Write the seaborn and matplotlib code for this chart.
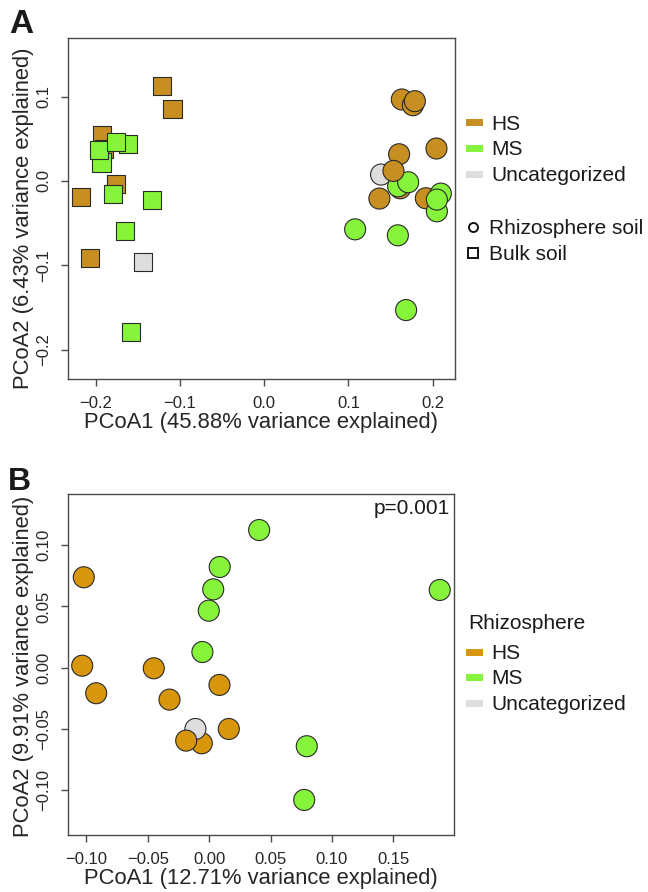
import matplotlib
matplotlib.use("Agg")
import matplotlib.pyplot as plt
from matplotlib.patches import Rectangle
from matplotlib.lines import Line2D
import seaborn as sns
import pandas as pd

# ---------------- data ----------------
# Panel A: rhizosphere soil samples (circles)
a_rhizo_x = [0.1634, 0.1765, 0.1789, 0.2045, 0.1602, 0.1388, 0.1614, 0.1590, 0.1709,
             0.1535, 0.1368, 0.1919, 0.2050, 0.2097, 0.2050, 0.1080, 0.1587, 0.1685]
a_rhizo_y = [0.0967, 0.0899, 0.0947, 0.0385, 0.0317, 0.0076, -0.0087, -0.0063, -0.0015,
             0.0119, -0.0209, -0.0205, -0.0360, -0.0150, -0.0221, -0.0574, -0.0645, -0.1532]
a_rhizo_group = ["HS", "HS", "HS", "HS", "HS", "Uncategorized", "HS", "MS", "MS",
                 "HS", "HS", "HS", "MS", "MS", "MS", "MS", "MS", "MS"]

# Panel A: bulk soil samples (squares)
a_bulk_x = [-0.1925, -0.1900, -0.1930, -0.1960, -0.1616, -0.1759, -0.1755, -0.1790,
            -0.1210, -0.1086, -0.2175, -0.1328, -0.1648, -0.2068, -0.1438, -0.1577]
a_bulk_y = [0.0543, 0.0376, 0.0218, 0.0365, 0.0436, 0.0463, -0.0036, -0.0158,
            0.1125, 0.0850, -0.0194, -0.0229, -0.0597, -0.0918, -0.0957, -0.1789]
a_bulk_group = ["HS", "HS", "MS", "MS", "MS", "MS", "HS", "MS",
                "HS", "HS", "HS", "MS", "MS", "HS", "Uncategorized", "MS"]

# Panel B: rhizosphere samples only
b_x = [-0.0060, -0.0112, -0.0187, -0.1021, -0.1034, -0.0920, -0.0451, -0.0323, 0.0084,
       0.0160, 0.0407, 0.0086, 0.0033, -0.0003, -0.0055, 0.0795, 0.0774, 0.1878]
b_y = [-0.0618, -0.0501, -0.0596, 0.0739, 0.0016, -0.0209, -0.0005, -0.0261, -0.0141,
       -0.0501, 0.1125, 0.0823, 0.0640, 0.0466, 0.0128, -0.0642, -0.1081, 0.0635]
b_group = ["HS", "Uncategorized", "HS", "HS", "HS", "HS", "HS", "HS", "HS",
           "HS", "MS", "MS", "MS", "MS", "MS", "MS", "MS", "MS"]

groups = ["HS", "MS", "Uncategorized"]
soil_types = ["Rhizosphere soil", "Bulk soil"]

a_xticks = [-0.2, -0.1, 0.0, 0.1, 0.2]
a_xticklabels = ["\u22120.2", "\u22120.1", "0.0", "0.1", "0.2"]
a_yticks = [-0.2, -0.1, 0.0, 0.1]
a_yticklabels = ["\u22120.2", "\u22120.1", "0.0", "0.1"]
b_xticks = [-0.10, -0.05, 0.00, 0.05, 0.10, 0.15]
b_xticklabels = ["\u22120.10", "\u22120.05", "0.00", "0.05", "0.10", "0.15"]
b_yticks = [-0.10, -0.05, 0.00, 0.05, 0.10]
b_yticklabels = ["\u22120.10", "\u22120.05", "0.00", "0.05", "0.10"]

a_xlabel = "PCoA1 (45.88% variance explained)"
a_ylabel = "PCoA2 (6.43% variance explained)"
b_xlabel = "PCoA1 (12.71% variance explained)"
b_ylabel = "PCoA2 (9.91% variance explained)"
b_pvalue = "p=0.001"

# ---------------- style ----------------
sns.set_style("ticks")
plt.rcParams["font.family"] = ["Liberation Sans", "DejaVu Sans"]
plt.rcParams["text.color"] = "#1a1a1a"
plt.rcParams["axes.edgecolor"] = "#4a4a4a"
plt.rcParams["axes.linewidth"] = 1.0

pal_a = {"HS": "#C78F22", "MS": "#86F43A", "Uncategorized": "#DEDEDE"}
pal_b = {"HS": "#D8960C", "MS": "#86F43A", "Uncategorized": "#DEDEDE"}
edge = "#2a2a2a"

W, H = 648, 892
fig = plt.figure(figsize=(W / 100, H / 100), dpi=100)
fig.patch.set_facecolor("white")


def fx(px):
    return px / W


def fy(py):
    return 1 - py / H


def axes_rect(left, top, right, bottom):
    return [fx(left), fy(bottom), (right - left) / W, (bottom - top) / H]


ax_a = fig.add_axes(axes_rect(67.7, 37.7, 455, 379))
ax_b = fig.add_axes(axes_rect(67.7, 494.3, 454, 835.3))

df_ar = pd.DataFrame({"x": a_rhizo_x, "y": a_rhizo_y, "group": a_rhizo_group})
df_ab = pd.DataFrame({"x": a_bulk_x, "y": a_bulk_y, "group": a_bulk_group})
df_b = pd.DataFrame({"x": b_x, "y": b_y, "group": b_group})

sns.scatterplot(data=df_ab, x="x", y="y", hue="group", hue_order=groups, palette=pal_a,
                marker="s", s=172, edgecolor=edge, linewidth=0.8, legend=False, ax=ax_a)
sns.scatterplot(data=df_ar, x="x", y="y", hue="group", hue_order=groups, palette=pal_a,
                marker="o", s=229, edgecolor=edge, linewidth=0.8, legend=False, ax=ax_a)
sns.scatterplot(data=df_b, x="x", y="y", hue="group", hue_order=groups, palette=pal_b,
                marker="o", s=229, edgecolor=edge, linewidth=0.8, legend=False, ax=ax_b)

ax_a.set_xlim(-0.233, 0.2265)
ax_a.set_ylim(-0.235, 0.170)
ax_b.set_xlim(-0.1152, 0.1994)
ax_b.set_ylim(-0.137, 0.1417)

for ax, xt, xtl, yt, ytl in [(ax_a, a_xticks, a_xticklabels, a_yticks, a_yticklabels),
                              (ax_b, b_xticks, b_xticklabels, b_yticks, b_yticklabels)]:
    ax.set_xticks(xt)
    ax.set_xticklabels(xtl)
    ax.set_yticks(yt)
    ax.set_yticklabels(ytl, rotation=90, va="center")
    ax.tick_params(direction="out", length=5, width=1.0, color="#4a4a4a",
                   labelsize=12, pad=7)
    for sp in ax.spines.values():
        sp.set_visible(True)
        sp.set_color("#4a4a4a")

ax_a.set_xlabel(a_xlabel, fontsize=15.8)
ax_a.set_ylabel(a_ylabel, fontsize=15.8)
ax_b.set_xlabel(b_xlabel, fontsize=15.8)
ax_b.set_ylabel(b_ylabel, fontsize=15.8)
for ax in (ax_a, ax_b):
    ax.xaxis.labelpad = 1

# y-labels: right edge of the rotated text sits about 34 px from the figure edge;
# the panel A label is centred slightly below its axes
ax_a.yaxis.set_label_coords(-0.088, 0.47)
ax_b.yaxis.set_label_coords(-0.088, 0.495)

ax_b.text(0.9897, 0.9598, b_pvalue, transform=ax_b.transAxes, ha="right", va="center",
          fontsize=15)

# panel letters
fig.text(fx(9), fy(33), "A", fontsize=24, fontweight="bold", va="baseline", ha="left")
fig.text(fx(8), fy(490), "B", fontsize=23, fontweight="bold", va="baseline", ha="left")


def colour_key(entries, palette, x_patch, x_text, ys):
    for name, yc in zip(entries, ys):
        fig.patches.append(Rectangle((fx(x_patch), fy(yc + 3.5)), 17.6 / W, 7 / H,
                                     transform=fig.transFigure, facecolor=palette[name],
                                     edgecolor="none"))
        fig.text(fx(x_text), fy(yc + 1.5), name, fontsize=15, va="center", ha="left")


# legend of panel A
colour_key(groups, pal_a, 465.7, 491, [122.7, 148.3, 174.0])
for mk, name, yc in zip(["o", "s"], soil_types, [226.7, 252.7]):
    fig.add_artist(Line2D([fx(473.3)], [fy(yc)], marker=mk, markerfacecolor="none",
                          markeredgecolor="#111111", markersize=6.5, markeredgewidth=1.4,
                          transform=fig.transFigure))
    fig.text(fx(489), fy(yc + 1.5), name, fontsize=15, va="center", ha="left")

# legend of panel B
fig.text(fx(468), fy(621.7 + 1.5), "Rhizosphere", fontsize=15, va="center", ha="left")
colour_key(groups, pal_b, 465.7, 491.7, [652.3, 677.3, 703.0])

fig.savefig("out.png", dpi=100, facecolor="white")
